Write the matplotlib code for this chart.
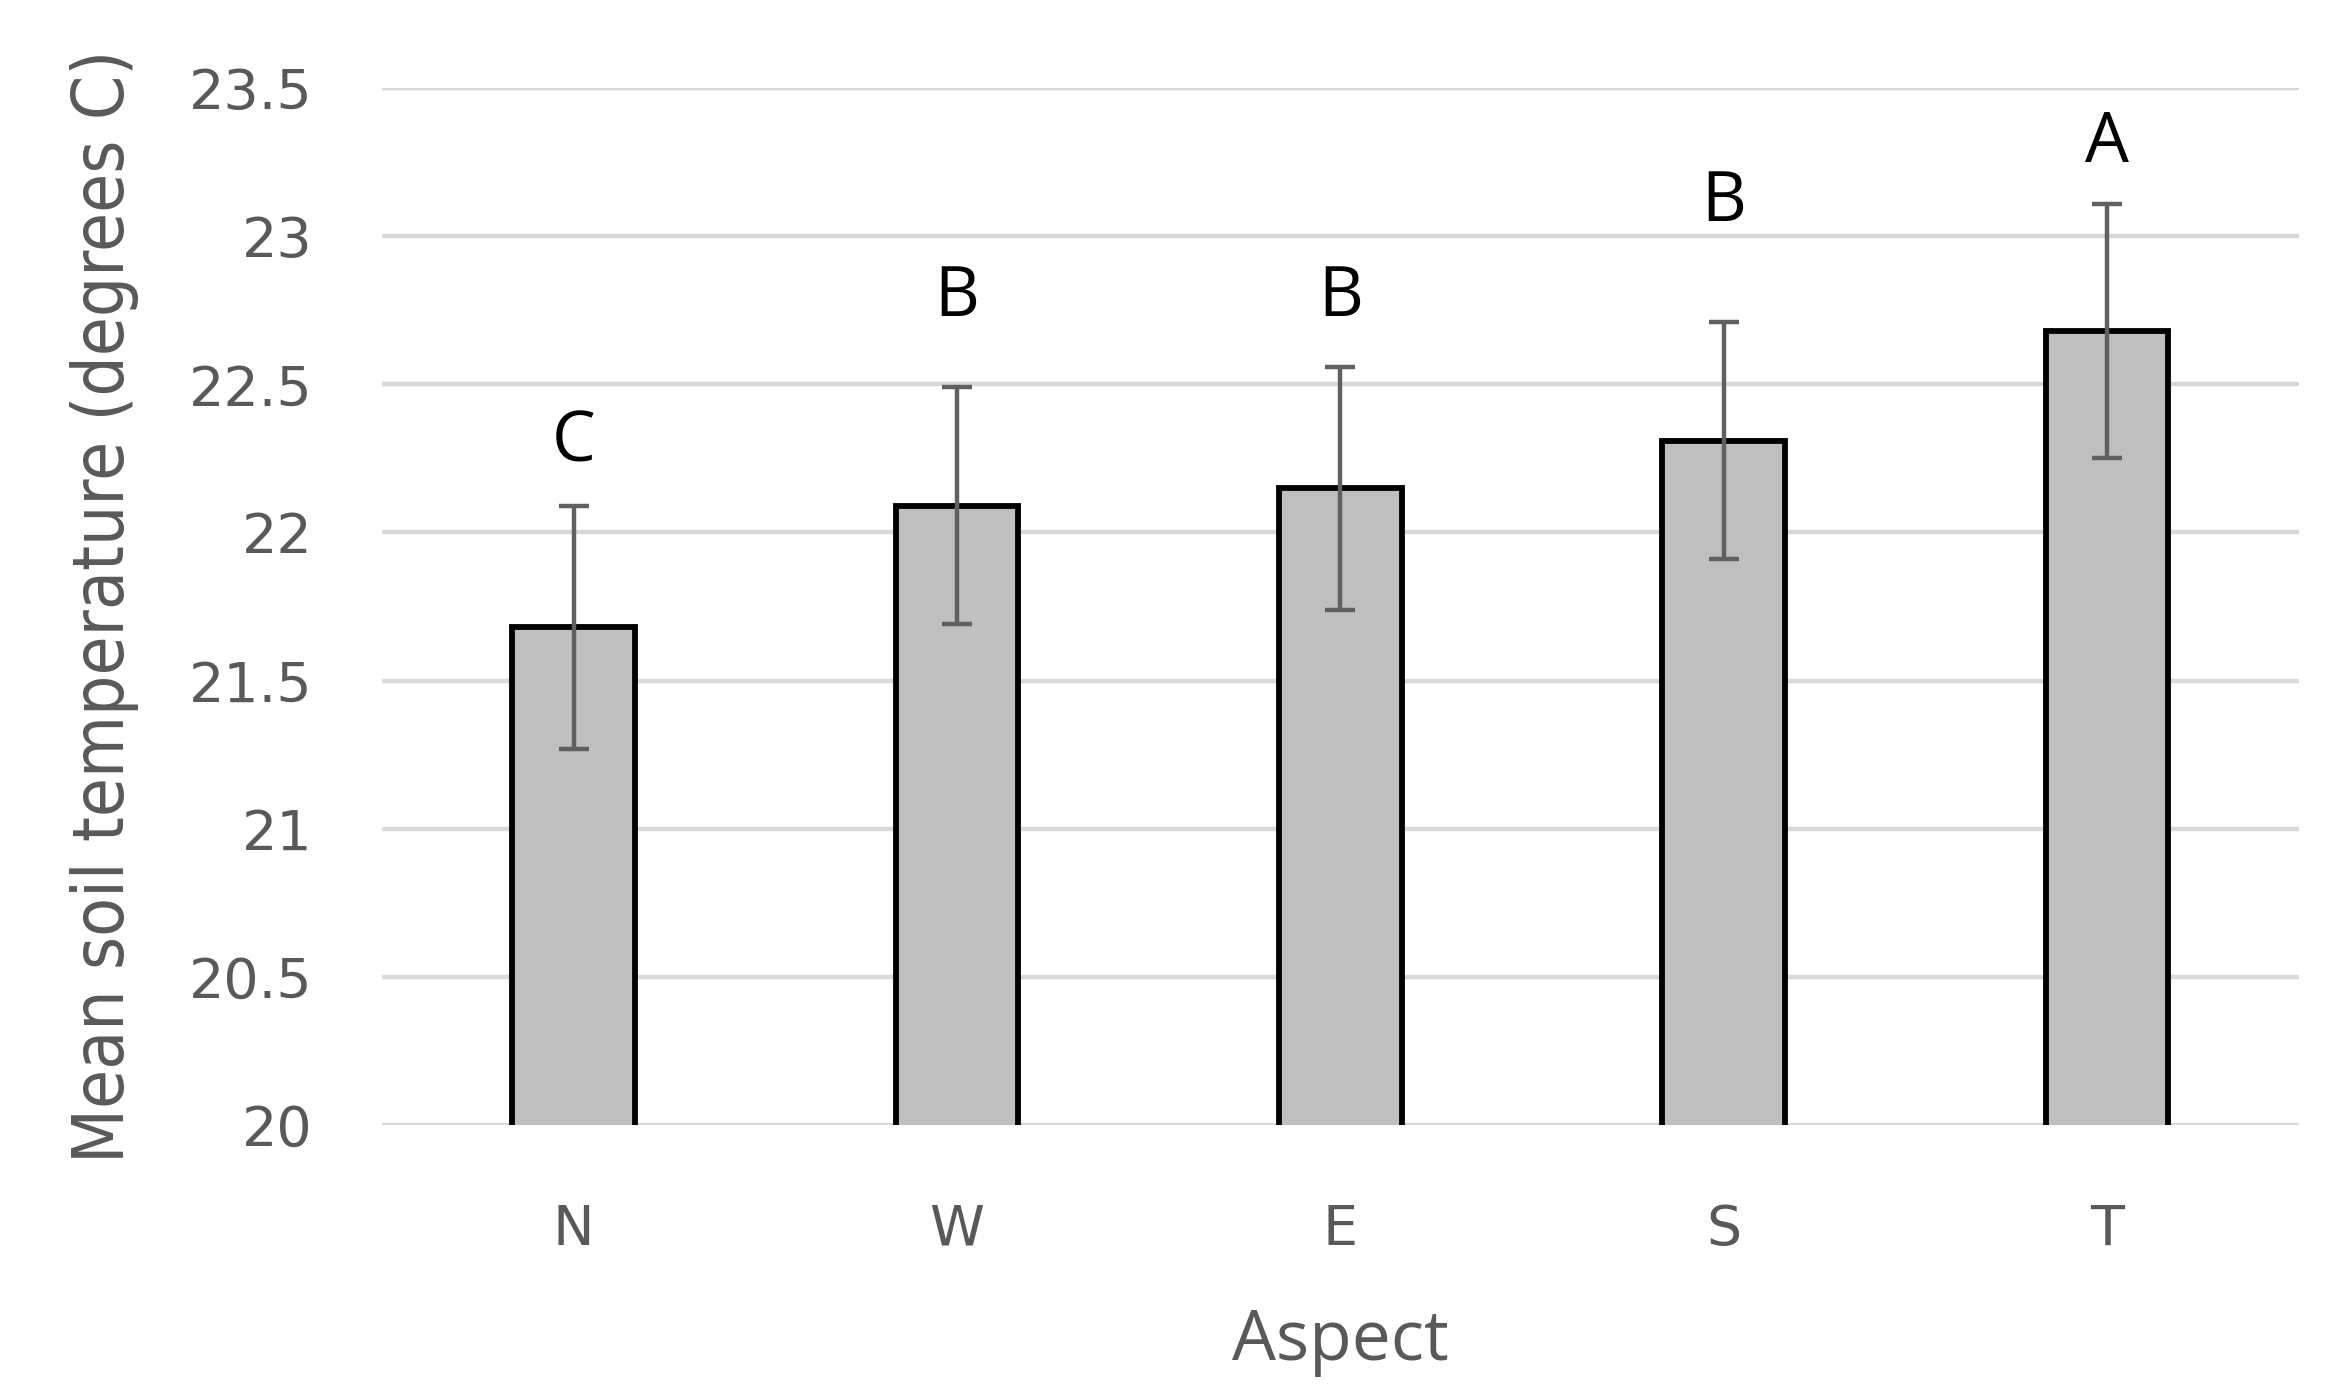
import matplotlib.pyplot as plt
import numpy as np

# data
aspects = ['N', 'W', 'E', 'S', 'T']
mean_temp = [21.68, 22.09, 22.15, 22.31, 22.68]
std_err = [0.41, 0.40, 0.41, 0.40, 0.43]
groups = ['C', 'B', 'B', 'B', 'A']
group_y = [22.24, 22.73, 22.73, 23.05, 23.25]

fig = plt.figure(figsize=(23.48, 13.96), dpi=100)
ax = fig.add_axes([0.1627, 0.194, 0.8163, 0.743])

x = np.arange(len(aspects))
ax.bar(x, mean_temp, width=0.32, color='#bfbfbf', edgecolor='black',
       linewidth=4.2, zorder=3)
ax.errorbar(x, mean_temp, yerr=std_err, fmt='none', ecolor='#606060',
            elinewidth=3.2, capsize=11, capthick=3.2, zorder=4)

for xi, g, gy in zip(x, groups, group_y):
    ax.text(xi, gy, g, ha='center', va='baseline', fontsize=50,
            family=['Open Sans', 'DejaVu Sans'], color='black')

ax.set_ylim(20, 23.5)
ax.set_xlim(-0.5, 4.5)
ax.set_yticks(np.arange(20, 23.51, 0.5))
ax.set_yticklabels(['20', '20.5', '21', '21.5', '22', '22.5', '23', '23.5'])
ax.set_xticks(x)
ax.set_xticklabels(aspects)
ax.yaxis.grid(True, color='#d9d9d9', linewidth=3.2, zorder=0)
ax.set_axisbelow(True)
for s in ax.spines.values():
    s.set_visible(False)
ax.tick_params(axis='both', length=0, labelsize=40, colors='#595959')
ax.tick_params(axis='y', pad=50)
ax.tick_params(axis='x', pad=56)

ax.set_ylabel('Mean soil temperature (degrees C)', fontsize=51, color='#595959',
              family='DejaVu Sans', fontstretch='condensed', labelpad=36)
ax.set_xlabel('Aspect', fontsize=50, color='#595959',
              family=['Open Sans', 'DejaVu Sans'], labelpad=36)

fig.savefig('out.png', dpi=100, facecolor='white')
